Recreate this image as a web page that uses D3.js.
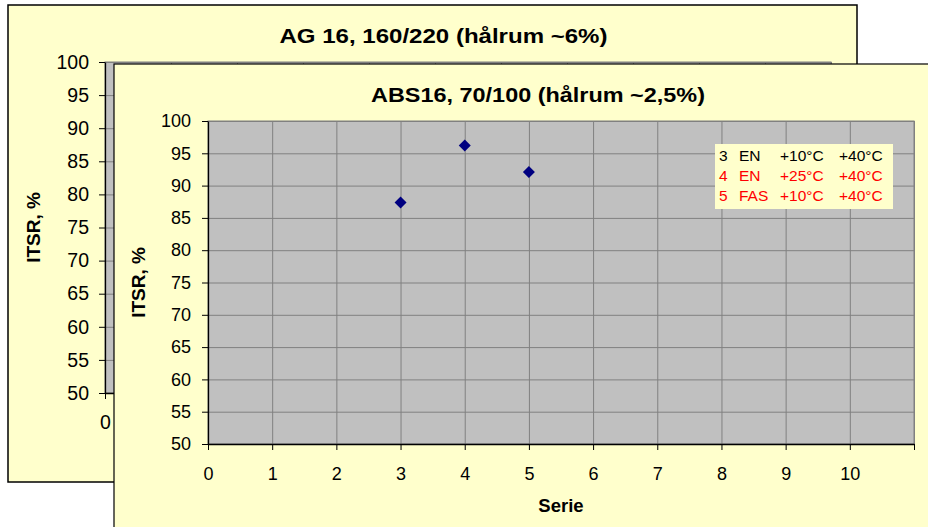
<!DOCTYPE html>
<html>
<head>
<meta charset="utf-8">
<script src="https://cdn.jsdelivr.net/npm/d3@7"></script>
<style>
  body { margin: 0; background: #fff; }
  text { font-family: "Liberation Sans", Arial, sans-serif; }
</style>
</head>
<body>
<div id="chart"></div>
<script>
// data
const serie = [3, 4, 5];
const itsr = [87.4, 96.2, 92.1];
const yTicks = [50, 55, 60, 65, 70, 75, 80, 85, 90, 95, 100];
const xTicks = [0, 1, 2, 3, 4, 5, 6, 7, 8, 9, 10];
const backXTicks = [0]; // the rest of the back chart is hidden under the front one
const backTitle = 'AG 16, 160/220 (hålrum ~6%)';
const frontTitle = 'ABS16, 70/100 (hålrum ~2,5%)';
const legendRows = [
  ['3', 'EN', '+10°C', '+40°C'],
  ['4', 'EN', '+25°C', '+40°C'],
  ['5', 'FAS', '+10°C', '+40°C']
];
const legendColors = ['#000000', '#ff0000', '#ff0000'];

const width = 928;
const height = 527;
const panelFill = '#ffffcc';
const plotFill = '#c0c0c0';
const gridColor = '#808080';

const svg = d3.select('#chart')
  .append('svg')
  .attr('width', width)
  .attr('height', height);

// draw one chart panel (frame, plot area, grid, axes)
function drawPanel(g, box, plot, opts) {
  g.append('rect')
    .attr('x', box.x).attr('y', box.y)
    .attr('width', box.w).attr('height', box.h)
    .attr('fill', panelFill)
    .attr('stroke', '#000')
    .attr('stroke-width', opts.border);

  const x = d3.scaleLinear().domain([0, 11]).range([plot.left, plot.right]);
  const y = d3.scaleLinear().domain([50, 100]).range([plot.bottom, plot.top]);

  g.append('rect')
    .attr('x', plot.left).attr('y', plot.top)
    .attr('width', plot.right - plot.left)
    .attr('height', plot.bottom - plot.top)
    .attr('fill', plotFill)
    .attr('stroke', gridColor);

  // gridlines
  g.append('g')
    .attr('transform', `translate(0,${plot.bottom})`)
    .call(d3.axisBottom(x).tickValues(d3.range(1, 12)).tickSize(-(plot.bottom - plot.top)).tickFormat(''))
    .call(a => a.select('.domain').remove())
    .call(a => a.selectAll('line').attr('stroke', gridColor));
  g.append('g')
    .attr('transform', `translate(${plot.left},0)`)
    .call(d3.axisLeft(y).tickValues(yTicks.slice(1)).tickSize(-(plot.right - plot.left)).tickFormat(''))
    .call(a => a.select('.domain').remove())
    .call(a => a.selectAll('line').attr('stroke', gridColor));

  // axes
  const yAxis = g.append('g')
    .attr('transform', `translate(${plot.left},0)`)
    .call(d3.axisLeft(y).tickValues(yTicks).tickSize(6).tickSizeOuter(0).tickPadding(opts.yPad));
  const xAxis = g.append('g')
    .attr('transform', `translate(0,${plot.bottom})`)
    .call(d3.axisBottom(x).tickValues(d3.range(0, 12)).tickSize(6).tickSizeOuter(0).tickPadding(opts.xPad)
      .tickFormat(d => opts.xLabels.includes(d) ? d : ''));
  [yAxis, xAxis].forEach(a => {
    a.select('.domain').attr('stroke', '#000').attr('stroke-width', 1.3);
    a.selectAll('line').attr('stroke', '#000');
    a.selectAll('text')
      .attr('font-size', opts.tickFont)
      .attr('fill', '#000')
      .style('font-family', '"Liberation Sans", Arial, sans-serif');
  });
  xAxis.selectAll('text').filter(d => !opts.xLabels.includes(d)).remove();

  // title, stretched to the width it has in the picture
  g.append('text')
    .attr('x', opts.titleX - opts.titleW / 2)
    .attr('y', opts.titleY)
    .attr('font-size', 20)
    .attr('font-weight', 'bold')
    .attr('textLength', opts.titleW)
    .attr('lengthAdjust', 'spacingAndGlyphs')
    .text(opts.title);

  g.append('text')
    .attr('transform', `translate(${opts.ylabX},${(plot.top + plot.bottom) / 2}) rotate(-90)`)
    .attr('text-anchor', 'middle')
    .attr('font-size', 19)
    .attr('font-weight', 'bold')
    .text('ITSR, %');

  return { x, y };
}

// back chart (mostly hidden)
drawPanel(svg.append('g'),
  { x: 8, y: 5, w: 849, h: 477 },
  { left: 105, right: 831, top: 62, bottom: 393 },
  { border: 1.5, tickFont: 19.5, yPad: 10, xPad: 16, xLabels: backXTicks,
    title: backTitle, titleX: 443.5, titleW: 328, titleY: 43, ylabX: 40 });

// front chart
const front = svg.append('g');
const fs = drawPanel(front,
  { x: 114, y: 64, w: 900, h: 500 },
  { left: 208, right: 914, top: 121, bottom: 444 },
  { border: 1.2, tickFont: 18, yPad: 11, xPad: 17, xLabels: xTicks,
    title: frontTitle, titleX: 538, titleW: 334, titleY: 102, ylabX: 145 });

front.append('text')
  .attr('x', 561)
  .attr('y', 512)
  .attr('text-anchor', 'middle')
  .attr('font-size', 18.5)
  .attr('font-weight', 'bold')
  .text('Serie');

// data points
front.selectAll('.pt')
  .data(serie)
  .join('path')
  .attr('class', 'pt')
  .attr('d', d3.symbol(d3.symbolSquare, 72))
  .attr('transform', (d, i) => `translate(${fs.x(d)},${fs.y(itsr[i])}) rotate(45)`)
  .attr('fill', '#000080');

// legend box
const legend = front.append('g').attr('transform', 'translate(715,144)');
legend.append('rect')
  .attr('width', 178).attr('height', 65)
  .attr('fill', panelFill);
const colX = [4, 24, 65, 124];
legendRows.forEach((row, i) => {
  row.forEach((t, j) => {
    legend.append('text')
      .attr('x', colX[j])
      .attr('y', 17 + i * 20)
      .attr('font-size', 15.5)
      .attr('fill', legendColors[i])
      .text(t);
  });
});
</script>
</body>
</html>
